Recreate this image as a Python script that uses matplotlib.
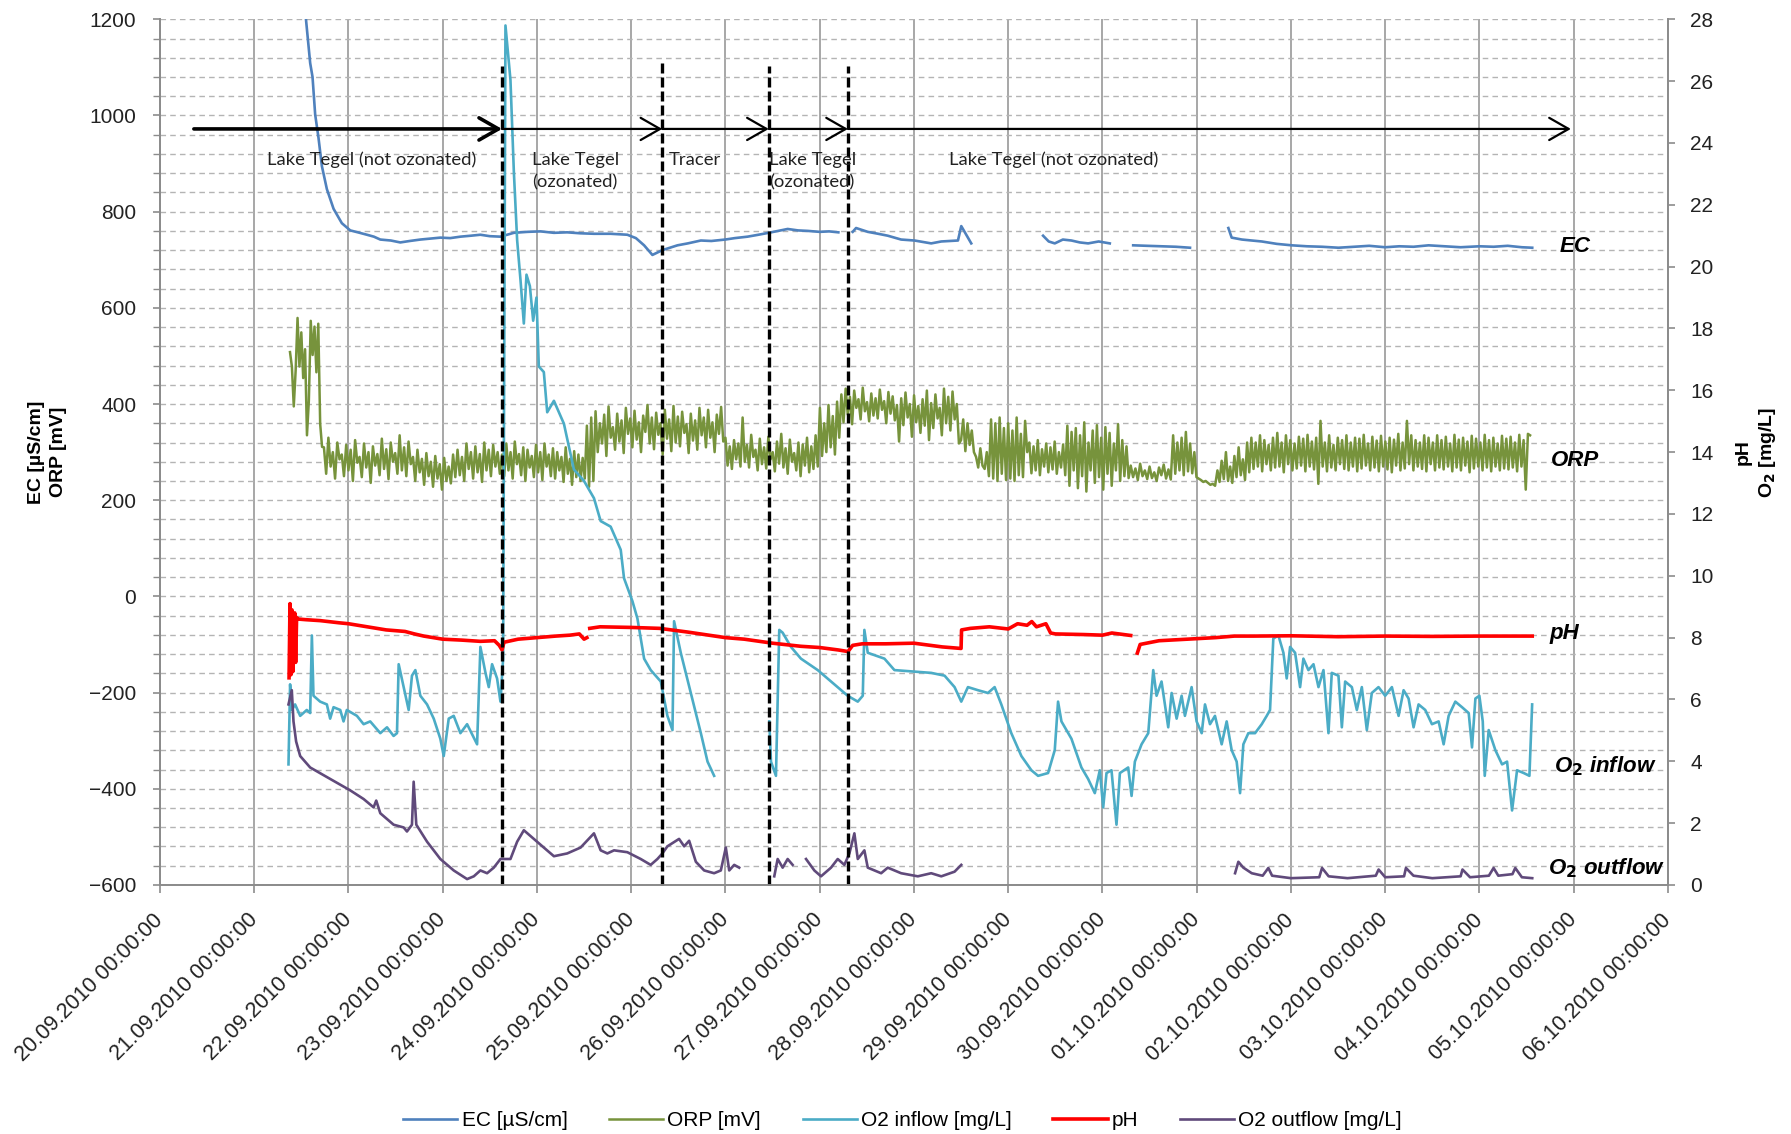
import numpy as np
import matplotlib
matplotlib.use("Agg")
import matplotlib.pyplot as plt
from matplotlib.ticker import MultipleLocator

plt.rcParams['font.family'] = ['Liberation Sans', 'DejaVu Sans']

nan = np.nan

# x axis: days since 20.09.2010 00:00
date_labels = ["20.09.2010 00:00:00", "21.09.2010 00:00:00", "22.09.2010 00:00:00",
               "23.09.2010 00:00:00", "24.09.2010 00:00:00", "25.09.2010 00:00:00",
               "26.09.2010 00:00:00", "27.09.2010 00:00:00", "28.09.2010 00:00:00",
               "29.09.2010 00:00:00", "30.09.2010 00:00:00", "01.10.2010 00:00:00",
               "02.10.2010 00:00:00", "03.10.2010 00:00:00", "04.10.2010 00:00:00",
               "05.10.2010 00:00:00", "06.10.2010 00:00:00"]

# EC [uS/cm] (left axis)
ec_day = [1.52, 1.594, 1.619, 1.647, 1.682, 1.718, 1.771, 1.842, 1.93, 2.019, 2.1, 2.196,
          2.27, 2.338, 2.45, 2.55, 2.65, 2.763, 2.87, 2.975, 3.08, 3.188, 3.3, 3.4, 3.5,
          3.613, 3.755, 3.9, 4.038, 4.18, 4.321, 4.46, 4.605, 4.782, 4.959, 5.05, 5.137,
          5.225, 5.331, 5.491, 5.6, 5.739, 5.85, 5.997, 6.1, 6.235, 6.35, 6.458, 6.56, 6.66,
          6.77, 6.872, 7.0, 7.1, 7.198, 7.25, 7.35, 7.386, 7.51, 7.62, 7.722, 7.864, 8.006,
          8.183, 8.29, 8.467, 8.502, 8.555, 8.608, 9.0, 9.37, 9.43, 9.494, 9.58, 9.671,
          9.76, 9.848, 9.96, 10.078, 10.2, 10.326, 10.47, 10.627, 10.78, 10.929, 11.1,
          11.336, 11.371, 11.48, 11.584, 11.69, 11.85, 12.008, 12.17, 12.33, 12.504, 12.67,
          12.83, 13.0, 13.15, 13.3, 13.46, 13.63, 13.8, 14.0, 14.15, 14.3, 14.45, 14.56]
ec_val = [1260, 1109, 1080, 1002, 954, 895, 847, 806, 776, 761, 757, 752,
          748, 742, 740, 736, 739, 742, 744, 746, 745, 748, 750, 752, 749,
          748, 756, 758, 759, 756, 757, 755, 754, 754, 752, 745, 730,
          710, 720, 730, 734, 740, 739, 742, 745, 748, 752, 756, 760, 764,
          761, 760, 758, 759, 757, nan, 758, 766, 758, 754, 750, 742, 740,
          734, 738, 740, 770, 752, 734, nan, 750, 738, 734, 742, 740,
          736, 734, 738, 734, nan, 730, 729, 728, 727, 725, nan,
          766, 746, 742, 740, 738, 733, 730, 728, 727, 725, 727,
          729, 726, 728, 727, 730, 728, 726, 728, 727, 729, 726, 725]

# ORP [mV] (left axis), pieces between consecutive break days
orp_breaks = [1.38, 1.74, 3.63, 4.53, 6.0, 7.23, 8.5, 9.0, 10.3, 10.75, 11.02, 11.22, 11.58, 14.56]
orp_vals = [
    [508, 478, 395, 470, 579, 478, 549, 454, 514, 335, 407, 573, 502, 561, 466, 567, 359, 311],
    [310, 255, 330, 270, 300, 245, 320, 285, 295, 250, 315, 262, 305, 240, 325, 278, 290, 248, 318, 268,
     300, 236, 312, 272, 296, 252, 328, 265, 306, 244, 320, 280, 298, 255, 335, 262, 310, 250, 322, 275,
     290, 240, 305, 258, 286, 232, 298, 250, 280, 228, 292, 245, 275, 222, 288, 240, 270, 235, 295, 248,
     305, 252, 290, 240, 318, 265, 300, 245, 312, 258, 296, 238, 320, 262, 305, 250, 315, 270, 300, 255],
    [295, 250, 318, 262, 300, 245, 322, 275, 296, 252, 310, 240, 305, 268, 292, 248, 315, 258, 300, 242,
     318, 270, 295, 250, 308, 245, 300, 262, 290, 238, 310, 255, 286, 232, 302, 248, 295, 240, 288, 245],
    [355, 228, 372, 240, 385, 300, 360, 318, 378, 292, 395, 330, 352, 305, 380, 322, 366, 298, 392, 338,
     370, 310, 386, 326, 362, 300, 376, 342, 398, 318, 372, 306, 382, 336, 360, 295, 388, 328, 368, 302,
     396, 320, 374, 312, 384, 340, 358, 298, 380, 324, 366, 305, 392, 335, 372, 310, 388, 330, 362, 300,
     378, 338, 394, 322],
    [330, 272, 312, 265, 325, 285, 318, 270, 372, 280, 315, 268, 336, 290, 305, 262, 328, 275, 310, 266,
     332, 285, 300, 260, 322, 276, 338, 268, 308, 255, 326, 280, 298, 262, 320, 250, 316, 272, 330, 258,
     312, 265, 335, 270, 392, 292, 360, 300, 398, 310, 375, 295, 405, 330],
    [420, 362, 432, 378, 415, 358, 428, 392, 410, 368, 434, 385, 404, 364, 422, 376, 412, 370, 430, 388,
     406, 360, 425, 380, 416, 366, 398, 322, 412, 356, 424, 372, 400, 332, 418, 362, 396, 340, 410, 355,
     428, 325, 402, 350, 420, 370, 392, 335, 432, 360, 415, 345, 426, 368, 400, 318],
    [325, 368, 302, 360, 315, 345, 300, 290, 268, 308, 272, 265, 300, 250, 368, 245, 360, 240, 372, 255,
     350, 242],
    [360, 245, 345, 240, 372, 252, 338, 248, 365, 300, 320, 256, 312, 262, 325, 252, 306, 270, 318, 258,
     310, 264, 322, 255, 300, 268, 316, 252, 355, 230, 342, 262, 350, 225, 335, 250, 362, 218, 320, 262,
     345, 236, 356, 248, 330, 222, 352, 255, 340, 230, 318, 262, 358, 240, 325, 250, 312, 246],
    [272, 248, 266, 242, 276, 250, 262, 244, 270, 246, 258, 240, 268, 252, 274, 245, 264, 243],
    [335, 255, 320, 262, 330, 252, 342, 260, 318, 256, 300, 248],
    [245, 242, 238, 240, 236, 232, 234, 230],
    [262, 238, 282, 244, 300, 240, 270, 236, 292, 248, 310, 252, 285, 242, 320, 258],
    [330, 265, 320, 270, 335, 260, 325, 275, 315, 262, 330, 268, 340, 270, 320, 258, 335, 275, 325, 262,
     318, 266, 332, 272, 328, 260, 336, 270, 322, 264, 330, 234, 365, 270, 320, 260, 335, 268, 315, 262,
     330, 275, 325, 265, 335, 262, 320, 270, 330, 260, 328, 266, 336, 272, 318, 262, 332, 268, 324, 260,
     334, 270, 322, 264, 330, 258, 326, 272, 338, 262, 320, 266, 365, 275, 335, 262, 325, 270, 320, 265,
     335, 260, 330, 275, 320, 262, 335, 268, 325, 264, 332, 270, 318, 260, 336, 268, 326, 262, 330, 272,
     322, 258, 334, 266, 328, 270, 320, 262, 336, 268, 325, 260, 330, 270, 318, 262, 334, 266, 328, 264,
     332, 268, 320, 260, 336, 270, 325, 222, 338, 335],
]

# O2 inflow [mg/L] (right axis)
o2in_day = [1.364, 1.381, 1.399, 1.434, 1.488, 1.558, 1.594, 1.612, 1.629, 1.7, 1.771, 1.806,
            1.842, 1.913, 1.948, 1.983, 2.09, 2.161, 2.231, 2.338, 2.409, 2.479, 2.515, 2.533,
            2.586, 2.639, 2.674, 2.71, 2.763, 2.834, 2.905, 2.975, 3.011, 3.064, 3.117, 3.188,
            3.259, 3.365, 3.4, 3.454, 3.489, 3.524, 3.577, 3.613, 3.641, 3.666, 3.719, 3.755,
            3.79, 3.826, 3.861, 3.889, 3.925, 3.96, 3.995, 4.02, 4.073, 4.109, 4.18, 4.286,
            4.392, 4.499, 4.605, 4.676, 4.782, 4.889, 4.924, 5.013, 5.066, 5.137, 5.207, 5.314,
            5.384, 5.438, 5.455, 5.526, 5.632, 5.739, 5.81, 5.88, 6.2, 6.465, 6.483, 6.536,
            6.571, 6.607, 6.695, 6.801, 6.979, 7.156, 7.297, 7.404, 7.457, 7.474, 7.51, 7.687,
            7.793, 8.183, 8.325, 8.431, 8.502, 8.573, 8.679, 8.785, 8.856, 8.927, 9.033, 9.14,
            9.246, 9.317, 9.423, 9.494, 9.529, 9.565, 9.671, 9.777, 9.848, 9.919, 9.972, 10.008,
            10.043, 10.096, 10.149, 10.185, 10.273, 10.309, 10.344, 10.415, 10.486, 10.539,
            10.574, 10.627, 10.698, 10.734, 10.787, 10.84, 10.875, 10.946, 10.999, 11.053,
            11.088, 11.141, 11.194, 11.265, 11.318, 11.371, 11.424, 11.46, 11.495, 11.548,
            11.619, 11.69, 11.743, 11.778, 11.813, 11.867, 11.92, 11.955, 11.991, 12.044,
            12.097, 12.132, 12.185, 12.239, 12.292, 12.345, 12.398, 12.433, 12.504, 12.54,
            12.575, 12.646, 12.699, 12.752, 12.805, 12.858, 12.929, 13.0, 13.071, 13.142,
            13.195, 13.248, 13.301, 13.354, 13.425, 13.496, 13.567, 13.62, 13.673, 13.744,
            13.815, 13.886, 13.921, 13.957, 13.999, 14.035, 14.056, 14.098, 14.169, 14.24,
            14.293, 14.346, 14.399, 14.47, 14.53, 14.559]
o2in_val = [3.9, 6.49, 5.66, 5.84, 5.47, 5.66, 5.56, 8.07, 6.12, 5.93, 5.84, 5.38,
            5.75, 5.66, 5.29, 5.66, 5.47, 5.2, 5.29, 4.91, 5.1, 4.82, 4.91, 7.14,
            6.4, 5.66, 6.77, 6.95, 6.12, 5.84, 5.38, 4.73, 4.17, 5.38, 5.47, 4.91,
            5.2, 4.55, 7.7, 6.86, 6.4, 7.14, 6.68, 5.93, 7.32, 27.8, 26.04, 23.07,
            20.85, 19.55, 18.16, 19.74, 19.37, 18.25, 19.0, 16.77, 16.59, 15.29, 15.66, 14.92,
            13.44, 13.07, 12.51, 11.77, 11.59, 10.84, 9.92, 9.18, 8.62, 7.32, 6.95, 6.58,
            5.47, 5.01, 8.53, 7.51, 6.21, 4.91, 3.99, 3.53, nan, 5.29, 3.99, 3.53,
            8.25, 8.16, 7.7, 7.32, 6.95, 6.49, 6.12, 5.93, 6.12, 8.25, 7.51, 7.32,
            6.95, 6.86, 6.77, 6.4, 5.93, 6.4, 6.3, 6.21, 6.4, 5.84, 4.91, 4.17,
            3.71, 3.53, 3.62, 4.36, 5.93, 5.29, 4.73, 3.8, 3.43, 2.97, 3.71, 2.51,
            3.62, 3.71, 1.95, 3.62, 3.8, 2.88, 3.99, 4.55, 4.91, 6.95,
            6.12, 6.58, 5.1, 6.21, 5.38, 6.12, 5.47, 6.4, 5.29, 4.91,
            5.84, 5.2, 5.47, 4.55, 5.29, 4.36, 3.99, 2.97, 4.55, 4.91,
            4.91, 5.2, 5.47, 5.66, 7.97, 8.07, 7.51, 6.68, 7.7, 7.51,
            6.4, 7.32, 6.95, 7.14, 6.4, 6.95, 4.91, 6.86, 6.77, 5.1,
            6.58, 6.4, 5.66, 6.4, 5.01, 6.21, 6.4, 6.12, 6.4, 5.47,
            6.3, 6.03, 5.1, 5.84, 5.66, 5.2, 5.29, 4.55, 5.47, 5.93,
            5.75, 5.56, 4.45, 6.03, 6.12, 5.29, 3.53, 5.01, 4.36, 3.9,
            3.99, 2.41, 3.71, 3.62, 3.53, 5.84]

# pH (right axis)
ph_day = [1.37, 1.38, 1.39, 1.40, 1.41, 1.43, 1.44, 1.45, 1.47, 1.55, 1.7, 1.9, 2.0, 2.2,
          2.4, 2.6, 2.7, 2.8, 3.0, 3.2, 3.4, 3.55, 3.6, 3.63, 3.65, 3.8, 4.0, 4.2, 4.35,
          4.45, 4.5, 4.53, 4.545, 4.56, 4.67, 5.0, 5.3, 5.6, 6.0, 6.2, 6.5, 6.8, 7.0, 7.2,
          7.3, 7.35, 7.45, 7.7, 8.0, 8.3, 8.5, 8.505, 8.6, 8.8, 9.0, 9.1, 9.2, 9.25, 9.3,
          9.4, 9.45, 9.5, 9.8, 10.0, 10.1, 10.3, 10.34, 10.37, 10.4, 10.6, 10.9, 11.2,
          11.4, 11.6, 12.0, 12.5, 13.0, 13.5, 14.0, 14.56]
ph_val = [6.7, 9.1, 6.8, 8.9, 6.9, 8.8, 7.2, 8.65, 8.6, 8.58, 8.55, 8.48, 8.45, 8.35,
          8.25, 8.2, 8.12, 8.05, 7.95, 7.92, 7.88, 7.9, 7.75, 7.6, 7.85, 7.95, 8.0, 8.05, 8.08,
          8.12, 7.95, 8.0, nan, 8.3, 8.35, 8.33, 8.3, 8.18, 8.0, 7.95, 7.82, 7.72, 7.68, 7.6,
          7.55, 7.75, 7.8, 7.8, 7.82, 7.7, 7.65, 8.25, 8.3, 8.35, 8.28, 8.45, 8.4, 8.52, 8.35,
          8.45, 8.15, 8.12, 8.1, 8.08, 8.15, 8.07, nan, 7.5, 7.78, 7.9, 7.95, 8.0,
          8.05, 8.05, 8.06, 8.03, 8.05, 8.04, 8.05, 8.05]

# O2 outflow [mg/L] (right axis)
o2out_day = [1.364, 1.399, 1.417, 1.445, 1.488, 1.594, 1.806, 2.019, 2.161, 2.267, 2.295,
             2.338, 2.479, 2.586, 2.621, 2.674, 2.692, 2.72, 2.834, 2.975, 3.117, 3.259, 3.33,
             3.4, 3.471, 3.542, 3.613, 3.719, 3.79, 3.861, 3.967, 4.073, 4.18, 4.321, 4.463,
             4.605, 4.64, 4.676, 4.747, 4.818, 4.959, 5.101, 5.207, 5.278, 5.331, 5.384, 5.508,
             5.562, 5.615, 5.686, 5.774, 5.88, 5.951, 6.004, 6.04, 6.093, 6.146, 6.3, 6.518,
             6.554, 6.607, 6.66, 6.713, 6.8, 6.855, 6.943, 7.014, 7.12, 7.191, 7.262, 7.315,
             7.368, 7.404, 7.474, 7.51, 7.652, 7.722, 7.864, 8.041, 8.183, 8.29, 8.431, 8.502,
             10.0, 11.407, 11.442, 11.495, 11.584, 11.7, 11.76, 11.8, 12.0, 12.3, 12.33, 12.4,
             12.6, 12.9, 12.93, 13.0, 13.2, 13.22, 13.3, 13.5, 13.8, 13.82, 13.9, 14.1, 14.15,
             14.2, 14.35, 14.38, 14.45, 14.56]
o2out_val = [5.84, 6.3, 5.29, 4.64, 4.17, 3.8, 3.43, 3.06, 2.78, 2.51, 2.73,
             2.32, 1.95, 1.86, 1.73, 1.95, 3.34, 1.95, 1.4, 0.84, 0.47, 0.19, 0.28,
             0.47, 0.38, 0.56, 0.84, 0.84, 1.4, 1.77, 1.49, 1.21, 0.93, 1.02, 1.21,
             1.67, 1.4, 1.12, 1.02, 1.12, 1.06, 0.84, 0.65, 0.84, 1.02, 1.25, 1.49,
             1.25, 1.43, 0.75, 0.47, 0.38, 0.47, 1.21, 0.47, 0.65, 0.56, nan, 0.28,
             0.84, 0.56, 0.84, 0.65, nan, 0.84, 0.47, 0.28, 0.56, 0.84, 0.65, 1.02,
             1.67, 0.84, 1.12, 0.56, 0.38, 0.56, 0.38, 0.28, 0.38, 0.28, 0.43, 0.65,
             nan, 0.38, 0.75, 0.56, 0.38, 0.3, 0.55, 0.3, 0.22, 0.25, 0.55, 0.28,
             0.22, 0.3, 0.5, 0.25, 0.28, 0.55, 0.3, 0.22, 0.28, 0.5, 0.25, 0.3, 0.55,
             0.3, 0.35, 0.55, 0.25, 0.22]

# phase annotations
phase_lines = [3.63, 5.33, 6.46, 7.30]
phase_tops = [1103, 1115, 1103, 1103]
arrow_start = [0.36, 3.63, 5.33, 6.46, 7.30]
arrow_end = [3.63, 5.33, 6.46, 7.30, 14.97]
arrow_y = 972
phase_text = ["Lake Tegel (not ozonated)", "Lake Tegel\n(ozonated)", "Tracer",
              "Lake Tegel\n(ozonated)", "Lake Tegel (not ozonated)"]
phase_text_x = [2.245, 4.405, 5.68, 6.92, 9.48]

c_ec = '#4f81bd'
c_orp = '#77933c'
c_in = '#4bacc6'
c_ph = '#ff0000'
c_out = '#604a7b'

fig = plt.figure(figsize=(17.91, 11.34), dpi=100)
ax = fig.add_axes([0.0893, 0.2196, 0.842, 0.7634])
ax2 = ax.twinx()

# ORP times: evenly spaced samples inside each piece
orp_day = []
orp_y = []
for i, vals in enumerate(orp_vals):
    t = np.linspace(orp_breaks[i], orp_breaks[i + 1], len(vals), endpoint=False)
    orp_day.extend(t)
    orp_y.extend(vals)

l_ec, = ax.plot(ec_day, ec_val, color=c_ec, lw=1.9, label='EC [µS/cm]')
l_orp, = ax.plot(orp_day, orp_y, color=c_orp, lw=1.8, label='ORP [mV]')
l_in, = ax2.plot(o2in_day, o2in_val, color=c_in, lw=1.9, label='O2 inflow [mg/L]')
l_ph, = ax2.plot(ph_day, ph_val, color=c_ph, lw=2.6, label='pH')
l_out, = ax2.plot(o2out_day, o2out_val, color=c_out, lw=1.9, label='O2 outflow [mg/L]')

ax.set_xlim(0, 16)
ax.set_ylim(-600, 1200)
ax2.set_ylim(0, 28)

ax.set_xticks(range(17))
ax.set_xticklabels(date_labels, rotation=45, ha='right', va='center',
                   rotation_mode='anchor', fontsize=15.5, color='#222222')
ax.yaxis.set_major_locator(MultipleLocator(200))
ax.yaxis.set_minor_locator(MultipleLocator(40))
ax2.yaxis.set_major_locator(MultipleLocator(2))

ax.grid(True, axis='x', which='major', color='#a0a0a0', lw=1.3, ls='-')
ax.grid(True, axis='y', which='both', color='#b4b4b4', lw=1.0, ls=(0, (4, 3)))
ax.set_axisbelow(True)

for a in (ax, ax2):
    a.spines['top'].set_visible(False)
    for s in ('left', 'right', 'bottom'):
        a.spines[s].set_color('#8c8c8c')
        a.spines[s].set_linewidth(1.3)

ax.tick_params(axis='x', length=6, width=1.2, color='#8c8c8c', pad=17)
ax.tick_params(axis='y', which='major', length=5, width=1.2, color='#8c8c8c',
               labelsize=15, labelcolor='#222222', pad=12)
ax.tick_params(axis='y', which='minor', length=5, width=1.0, color='#8c8c8c')
ax2.tick_params(axis='y', length=5, width=1.2, color='#8c8c8c', labelsize=15,
                labelcolor='#222222', pad=11)

ax.set_ylabel('EC [µS/cm]\nORP [mV]', fontsize=14, fontweight='bold', labelpad=16,
              linespacing=1.35)
ax2.set_ylabel('pH\nO$_\\mathbf{2}$ [mg/L]', fontsize=14, fontweight='bold', labelpad=15,
               rotation=90, linespacing=1.35)

# phase separators and arrows, drawn on top using the left-axis scale
for xd, top in zip(phase_lines, phase_tops):
    ax2.plot([xd, xd], [-600, top], transform=ax.transData, color='black', lw=2.4,
             ls=(0, (3, 1.2)), clip_on=False)
for k, (x0, x1) in enumerate(zip(arrow_start, arrow_end)):
    lw = 2.6 if k == 0 else 1.6
    ax2.annotate('', xy=(x1, arrow_y), xytext=(x0, arrow_y), xycoords=ax.transData,
                 arrowprops=dict(arrowstyle='->,head_length=0.7,head_width=0.4', lw=lw,
                                 color='black', shrinkA=0, shrinkB=0, mutation_scale=20))
for tx, s in zip(phase_text_x, phase_text):
    ax2.text(tx, 925, s, transform=ax.transData, ha='center', va='top', fontsize=13.3,
             family=['Lato', 'DejaVu Sans'], color='#222222', linespacing=1.55)

# series names at the right
lab_kw = dict(fontsize=16, fontweight='bold', fontstyle='italic', ha='center', va='center')
ax2.text(15.02, 727, 'EC', transform=ax.transData, **lab_kw)
ax2.text(15.01, 283, 'ORP', transform=ax.transData, **lab_kw)
ax2.text(14.9, 8.13, 'pH', **lab_kw)
ax2.text(15.33, 3.84, 'O$_\\mathbf{2}$ inflow', **lab_kw)
ax2.text(15.35, 0.55, 'O$_\\mathbf{2}$ outflow', **lab_kw)

fig.legend([l_ec, l_orp, l_in, l_ph, l_out],
           ['EC [µS/cm]', 'ORP [mV]', 'O2 inflow [mg/L]', 'pH', 'O2 outflow [mg/L]'],
           loc='center', bbox_to_anchor=(0.504, 0.012), ncol=5, frameon=False,
           fontsize=15, handlelength=2.6, handletextpad=0.2, columnspacing=2.0)

fig.savefig('out.png', dpi=100)
